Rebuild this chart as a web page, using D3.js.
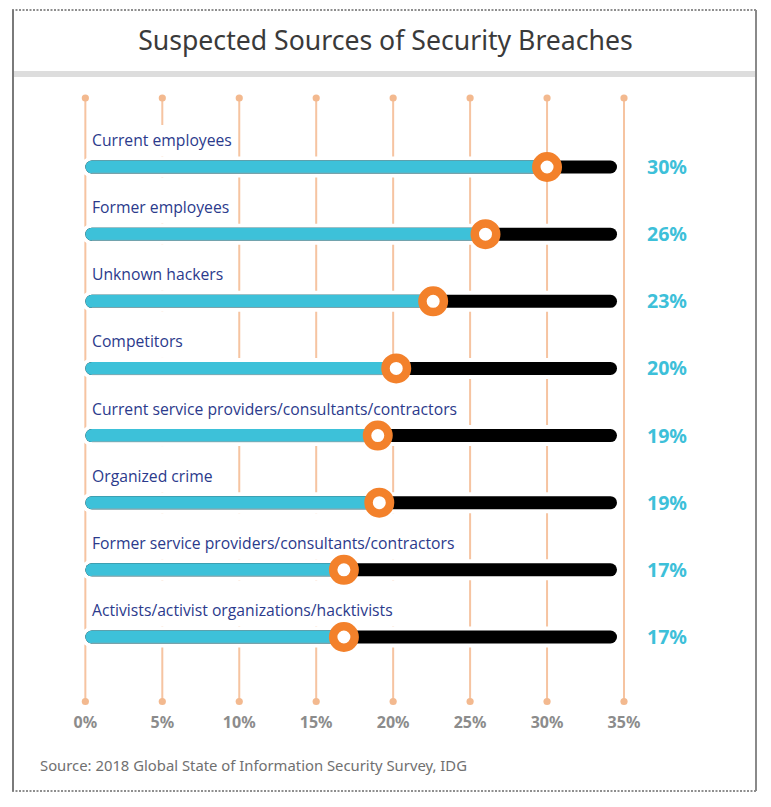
<!DOCTYPE html>
<html><head><meta charset="utf-8">
<script src="https://cdn.jsdelivr.net/npm/d3@7"></script>
<style>body{margin:0;background:#fff} svg{display:block}</style></head>
<body>
<svg id="c" width="771" height="807"></svg>
<script>
const categories = [
  "Current employees",
  "Former employees",
  "Unknown hackers",
  "Competitors",
  "Current service providers/consultants/contractors",
  "Organized crime",
  "Former service providers/consultants/contractors",
  "Activists/activist organizations/hacktivists"
];
const values = [30.0, 26.0, 22.6, 20.2, 19.0, 19.1, 16.8, 16.8];
const tickValues = [0, 5, 10, 15, 20, 25, 30, 35];
const tickLabels = ["0%", "5%", "10%", "15%", "20%", "25%", "30%", "35%"];
const titleText = "Suspected Sources of Security Breaches";
const sourceText = "Source: 2018 Global State of Information Security Survey, IDG";

const svg = d3.select("#c");
const x = d3.scaleLinear().domain([0, 35]).range([85.35, 624]);
const y = d3.scalePoint().domain(categories).range([167, 637]);
const barH = 13;

function fitSize(sel, target) {
  const w = sel.node().getComputedTextLength();
  const fs = parseFloat(sel.attr("font-size"));
  return fs * target / w;
}

// frame
svg.append("rect").attr("x", 14).attr("y", 71).attr("width", 741).attr("height", 6).attr("fill", "#dddddd");
svg.append("line").attr("x1", 12).attr("x2", 757).attr("y1", 10).attr("y2", 10)
  .attr("stroke", "#6a6a6a").attr("stroke-width", 1.5).attr("stroke-dasharray", "2,1.5");
svg.append("line").attr("x1", 12).attr("x2", 757).attr("y1", 791).attr("y2", 791)
  .attr("stroke", "#6a6a6a").attr("stroke-width", 1.5).attr("stroke-dasharray", "2,1.5");
svg.append("line").attr("x1", 13).attr("x2", 13).attr("y1", 10).attr("y2", 791)
  .attr("stroke", "#7a7a7a").attr("stroke-width", 2);
svg.append("line").attr("x1", 756).attr("x2", 756).attr("y1", 10).attr("y2", 791)
  .attr("stroke", "#8a8a8a").attr("stroke-width", 2);

// title
const title = svg.append("text").attr("x", 385.5).attr("y", 50)
  .attr("text-anchor", "middle").attr("font-family", "Noto Sans, sans-serif")
  .attr("font-size", 26.5).attr("fill", "#3a3a3a").text(titleText);
{
  const w = title.node().getComputedTextLength();
  const sx = 495 / w;
  title.attr("transform", `translate(385.5,0) scale(${sx},1) translate(-385.5,0)`);
}

// gridlines
const grid = svg.append("g");
grid.selectAll("line").data(tickValues).join("line")
  .attr("x1", d => x(d)).attr("x2", d => x(d)).attr("y1", 98).attr("y2", 701.5)
  .attr("stroke", "#f6c4a1").attr("stroke-width", 2);
grid.selectAll("circle.top").data(tickValues).join("circle").attr("class", "top")
  .attr("cx", d => x(d)).attr("cy", 98).attr("r", 3.6).attr("fill", "#f3b98f");
grid.selectAll("circle.bot").data(tickValues).join("circle").attr("class", "bot")
  .attr("cx", d => x(d)).attr("cy", 701.5).attr("r", 3.6).attr("fill", "#f3b98f");

// tick labels
const tl = svg.append("g").selectAll("text").data(tickValues).join("text")
  .attr("x", d => x(d)).attr("y", 728).attr("text-anchor", "middle")
  .attr("font-family", "Noto Sans, sans-serif").attr("font-weight", "bold")
  .attr("font-size", 14).attr("fill", "#8c8c8c").text((d, i) => tickLabels[i]);
{
  const s = fitSize(d3.select(tl.nodes()[2]), 32.8);
  tl.attr("font-size", s);
}

// layers
const labelBgLayer = svg.append("g");
const labelLayer = svg.append("g");
const barLayer = svg.append("g");
const markerLayer = svg.append("g");
const valueLayer = svg.append("g");

const labels = labelLayer.selectAll("text").data(categories).join("text")
  .attr("x", 92).attr("y", d => y(d) - 21)
  .attr("font-family", "Open Sans, sans-serif").attr("font-size", 15)
  .attr("fill", "#2b3a8c").text(d => d);
{
  const s = fitSize(d3.select(labels.nodes()[0]), 140);
  labels.attr("font-size", s);
}
const bgTop = (d, i) => i === 0 ? 125 : y(categories[i - 1]) + barH / 2 + 4;
labelBgLayer.selectAll("rect").data(categories).join("rect")
  .attr("x", 89)
  .attr("y", bgTop)
  .attr("height", (d, i) => (y(d) - barH / 2 - 4) - bgTop(d, i))
  .attr("width", (d, i) => labels.nodes()[i].getComputedTextLength() + 6)
  .attr("fill", "#ffffff");

const bars = barLayer.selectAll("g").data(categories).join("g");
// halo
bars.append("rect")
  .attr("x", x(0) - 4).attr("y", d => y(d) - barH / 2 - 4)
  .attr("width", x(35) - 7 - x(0) + 8).attr("height", barH + 8)
  .attr("rx", barH / 2 + 4).attr("fill", "#ffffff");
// track
bars.append("rect")
  .attr("x", x(0)).attr("y", d => y(d) - barH / 2)
  .attr("width", x(35) - 7 - x(0)).attr("height", barH)
  .attr("rx", barH / 2).attr("fill", "#000000");
// value bar
bars.append("rect")
  .attr("x", x(0)).attr("y", d => y(d) - barH / 2)
  .attr("width", (d, i) => x(values[i]) - x(0)).attr("height", barH)
  .attr("rx", barH / 2).attr("fill", "#3dc1d9");
bars.append("line")
  .attr("x1", x(0) + barH / 2).attr("x2", (d, i) => x(values[i]))
  .attr("y1", d => y(d) + barH / 2 - 0.3).attr("y2", d => y(d) + barH / 2 - 0.3)
  .attr("stroke", "#8fa5aa").attr("stroke-width", 0.8);

// markers
markerLayer.selectAll("circle").data(categories).join("circle")
  .attr("cx", (d, i) => x(values[i])).attr("cy", d => y(d))
  .attr("r", 10.75).attr("fill", "#ffffff")
  .attr("stroke", "#f3812b").attr("stroke-width", 8.5);

// value labels
const vl = valueLayer.selectAll("text").data(categories).join("text")
  .attr("x", x(35) + 43).attr("y", d => y(d) + 7)
  .attr("text-anchor", "middle").attr("font-family", "Noto Sans, sans-serif")
  .attr("font-weight", "bold").attr("font-size", 18).attr("fill", "#3dc0d9")
  .text((d, i) => Math.round(values[i]) + "%");
{
  const s = fitSize(d3.select(vl.nodes()[0]), 40);
  vl.attr("font-size", s);
}

// source
const src = svg.append("text").attr("x", 40).attr("y", 771)
  .attr("font-family", "Noto Sans, sans-serif").attr("font-size", 14.5)
  .attr("fill", "#707070").text(sourceText);
{
  const s = fitSize(src, 427);
  src.attr("font-size", s);
}
</script>
</body></html>
